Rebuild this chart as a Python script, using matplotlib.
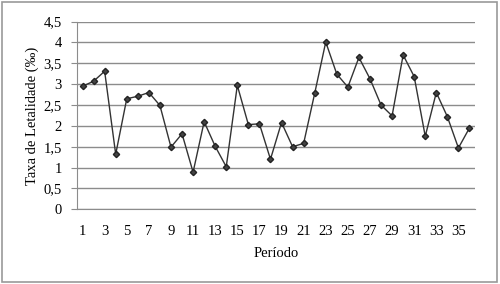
import matplotlib.pyplot as plt
from matplotlib.patches import Rectangle

plt.rcParams['font.family'] = ['Liberation Serif', 'DejaVu Serif']

periodo = list(range(1, 37))
taxa = [2.95, 3.07, 3.31, 1.32, 2.65, 2.71, 2.80, 2.49, 1.49, 1.81,
        0.89, 2.10, 1.51, 1.02, 2.97, 2.03, 2.05, 1.20, 2.08, 1.50,
        1.58, 2.78, 4.01, 3.24, 2.93, 3.64, 3.13, 2.50, 2.24, 3.70,
        3.18, 1.75, 2.80, 2.22, 1.47, 1.95]
y_ticks = [0, 0.5, 1, 1.5, 2, 2.5, 3, 3.5, 4, 4.5]

fig = plt.figure(figsize=(5, 2.84), dpi=100)
fig.patches.append(Rectangle((0.004, 0.007), 0.99, 0.985, transform=fig.transFigure,
                             fill=False, edgecolor='#999999', linewidth=1.2))
ax = fig.add_axes([0.154, 0.263, 0.796, 0.661])

ax.plot(periodo, taxa, color='#333333', linewidth=1.0, marker='D',
        markersize=3.2, markerfacecolor='#444444', markeredgecolor='#222222')

ax.set_xlim(0.5, 36.5)
ax.set_ylim(0, 4.5)
ax.set_yticks(y_ticks)
ax.set_yticklabels([f'{v:g}'.replace('.', ',') for v in y_ticks])
ax.set_xticks(periodo[::2])
ax.set_xticklabels([str(p) for p in periodo[::2]])
ax.grid(axis='y', color='#8c8c8c', linewidth=1.0)
ax.set_axisbelow(True)

for s in ['top', 'right']:
    ax.spines[s].set_visible(False)
ax.spines['left'].set_color('#8c8c8c')
ax.spines['bottom'].set_color('#8c8c8c')
ax.tick_params(axis='x', length=0, pad=11, labelsize=10.5)
ax.tick_params(axis='y', length=4, color='#8c8c8c', pad=7, labelsize=10.5)

ax.set_xlabel('Período', fontsize=10.5, labelpad=7)
ax.set_ylabel('Taxa de Letalidade (‰)', fontsize=10.5, labelpad=3)

fig.savefig('out.png', dpi=100)
